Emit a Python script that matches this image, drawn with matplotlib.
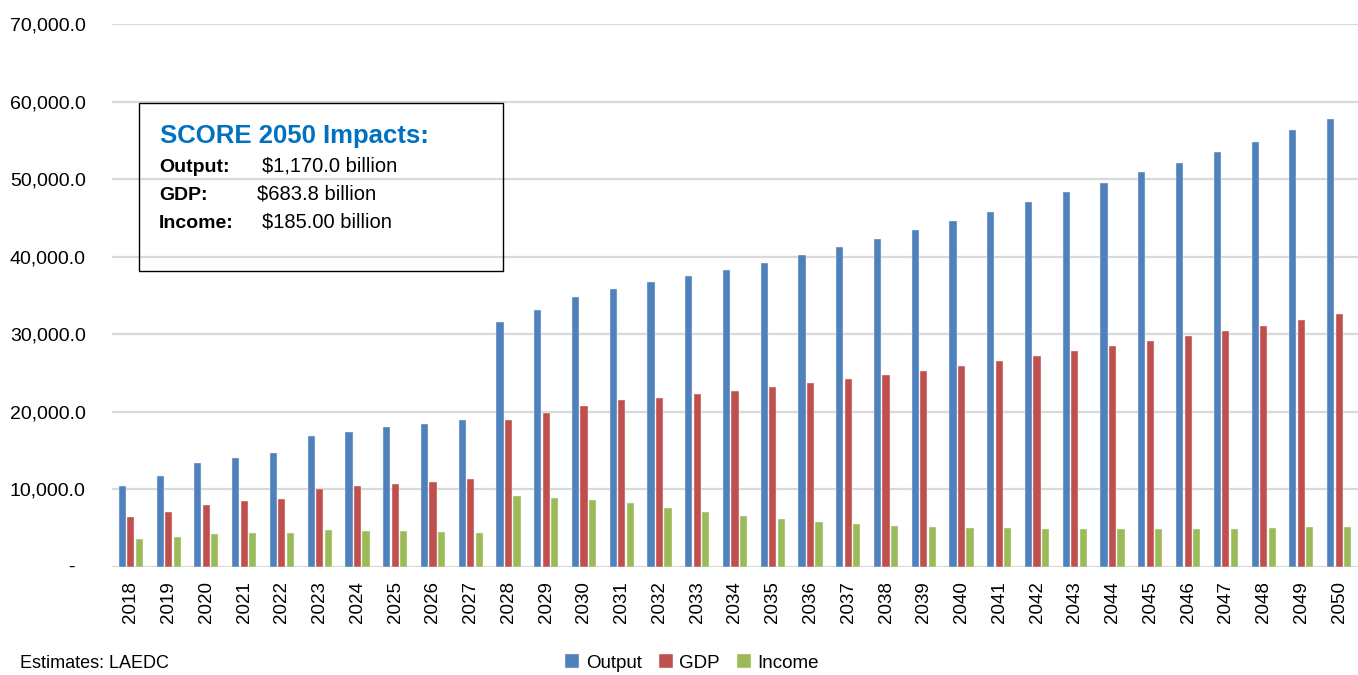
import numpy as np
import matplotlib
matplotlib.use("Agg")
import matplotlib.pyplot as plt
from matplotlib import font_manager
from matplotlib.patches import Rectangle
from matplotlib.ticker import FuncFormatter

# data (millions of $)
years = list(range(2018, 2051))
output = [10500, 11750, 13350, 14100, 14700, 16900, 17350, 18000, 18400, 18900,
          31550, 33100, 34830, 35900, 36700, 37500, 38250, 39230, 40170, 41240,
          42260, 43420, 44560, 45800, 47000, 48300, 49500, 50880, 52090, 53500,
          54840, 56300, 57760]
gdp = [6440, 7120, 8030, 8450, 8760, 10090, 10390, 10730, 10990, 11290,
       19000, 19830, 20800, 21470, 21850, 22280, 22630, 23190, 23660, 24220,
       24740, 25330, 25890, 26540, 27180, 27830, 28430, 29120, 29760, 30450,
       31100, 31870, 32560]
income = [3600, 3860, 4290, 4380, 4380, 4810, 4640, 4590, 4510, 4350,
          9140, 8840, 8660, 8190, 7630, 7110, 6550, 6160, 5820, 5560,
          5300, 5200, 5030, 4990, 4950, 4950, 4860, 4950, 4860, 4950,
          4990, 5120, 5200]
series_names = ["Output", "GDP", "Income"]
colors = ["#4F81BD", "#C0504D", "#9BBB59"]

title = "SCORE 2050 Impacts:"
box_rows = [("Output:", "$1,170.0 billion", 262),
            ("GDP:", "$683.8 billion", 257),
            ("Income:", "$185.00 billion", 262)]

W, H = 1358, 675
plt.rcParams['font.family'] = ['Liberation Sans', 'DejaVu Sans']

names = {f.name for f in font_manager.fontManager.ttflist}
has_narrow = 'Liberation Sans Narrow' in names

fig = plt.figure(figsize=(W / 100, H / 100), dpi=100)
ax = fig.add_axes([112 / W, (H - 567) / H, (W - 112) / W, (567 - 24) / H])

x = np.arange(len(years))
bw = 0.19
off = 0.225
handles = []
for i, (vals, c) in enumerate(zip([output, gdp, income], colors)):
    b = ax.bar(x + (i - 1) * off, vals, width=bw, color=c,
               edgecolor="#f4f4f4", linewidth=0.3, zorder=3)
    handles.append(b)

ax.set_xlim(-0.5, len(years) - 0.5)
ax.set_ylim(0, 70000)
ax.set_yticks(np.arange(0, 70001, 10000))
ax.yaxis.set_major_formatter(FuncFormatter(lambda v, p: "" if v == 0 else f"{v:,.1f}"))
ax.text(-0.033, 0, "-", transform=ax.get_yaxis_transform(),
        ha="center", va="center", fontsize=14)
ax.set_xticks(x)
ax.set_xticklabels([str(y) for y in years], rotation=90, fontsize=13.5)
ax.tick_params(axis="y", length=0, pad=19, labelsize=14)
ax.tick_params(axis="x", length=0, pad=10)
ax.grid(axis="y", color="#d9d9d9", linewidth=1.6, zorder=0)
ax.set_axisbelow(True)
for s in ax.spines.values():
    s.set_visible(False)

# info box
fig.add_artist(Rectangle((138.5 / W, 1 - 270.5 / H), 364.5 / W, 168 / H,
                         transform=fig.transFigure, fill=False,
                         edgecolor="black", linewidth=1.0))
if has_narrow:
    fig.text(160 / W, 1 - 143 / H, title, fontsize=22, fontweight="bold",
             color="#0070C0", va="baseline", family="Liberation Sans Narrow")
else:
    fig.text(160 / W, 1 - 143 / H, title, fontsize=18.5, fontweight="bold",
             color="#0070C0", va="baseline")
for k, (lab, val, vx) in enumerate(box_rows):
    yb = 1 - (171.5 + k * 28) / H
    fig.text(159 / W, yb, lab, fontsize=14, fontweight="bold", va="baseline")
    fig.text(vx / W, yb, val, fontsize=14.5, va="baseline")

fig.text(20 / W, 1 - 668 / H, "Estimates: LAEDC", fontsize=13, va="baseline")
fig.legend(handles, series_names, loc="center", bbox_to_anchor=(692 / W, 1 - 663 / H),
           ncol=3, frameon=False, fontsize=13.5, handlelength=0.75,
           handleheight=0.75, handletextpad=0.35, columnspacing=0.9)

fig.savefig("out.png", dpi=100)
